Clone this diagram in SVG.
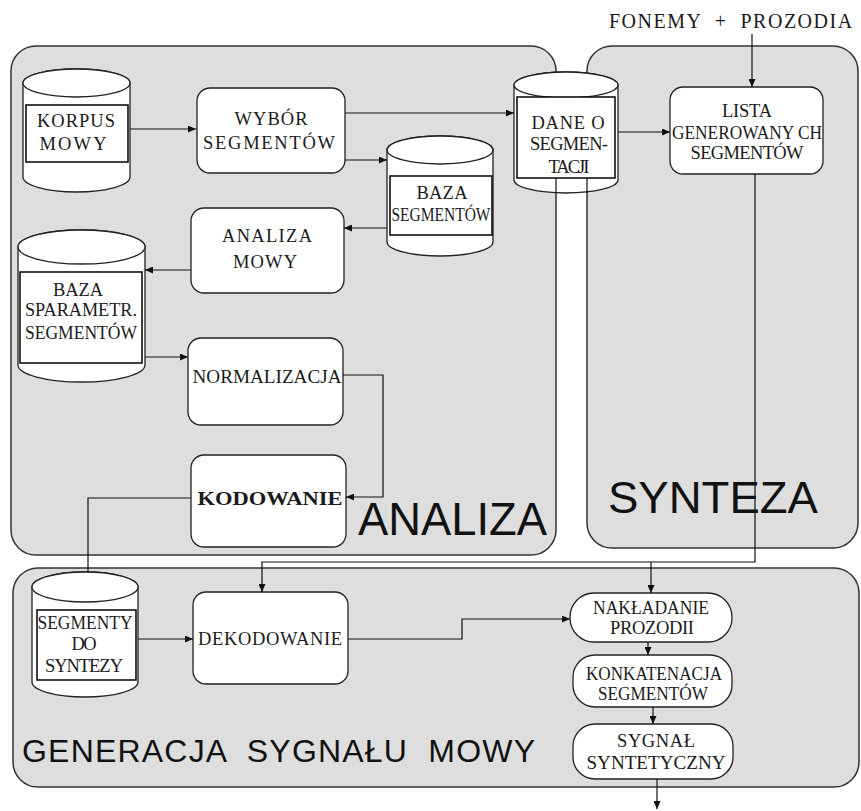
<svg xmlns="http://www.w3.org/2000/svg" width="861" height="811" viewBox="0 0 861 811">
<defs>
<style>
.pn{fill:#dedede;stroke:#333;stroke-width:1.5}
.pl{font-family:"Liberation Sans",Arial,sans-serif;fill:#111}
.n{fill:#fff;stroke:#222;stroke-width:1.3}
.ir{fill:#fff;stroke:#111;stroke-width:1.6}
.t{font-family:"Liberation Serif","Times New Roman",serif;font-size:18.5px;fill:#1a1a1a;text-anchor:middle}
.c{fill:none;stroke:#111;stroke-width:1.2}
.a{marker-end:url(#ah)}
</style>
<marker id="ah" markerUnits="userSpaceOnUse" markerWidth="8" markerHeight="7" refX="8" refY="3.5" orient="auto">
<path d="M0,0 L8,3.5 L0,7 z" fill="#111"/>
</marker>
</defs>
<rect width="861" height="811" fill="#fff"/>
<g id="panels">
<rect id="panel-analiza" class="pn" x="11" y="46" width="545" height="509" rx="25"/>
<rect id="panel-synteza" class="pn" x="587" y="46" width="271" height="502" rx="25"/>
<rect id="panel-generacja" class="pn" x="13" y="568" width="846" height="219" rx="25"/>
<text class="pl" x="358" y="535" font-size="46" textLength="189" lengthAdjust="spacingAndGlyphs">ANALIZA</text>
<text class="pl" x="608" y="513" font-size="45" textLength="210" lengthAdjust="spacingAndGlyphs">SYNTEZA</text>
<text class="pl" x="22" y="762" font-size="32" textLength="513" lengthAdjust="spacing" xml:space="preserve">GENERACJA  SYGNAŁU  MOWY</text>
</g>
<text id="input-label" x="609" y="28" font-family="'Liberation Serif','Times New Roman',serif" font-size="20" letter-spacing="1.5" fill="#1a1a1a" xml:space="preserve">FONEMY  +  PROZODIA</text>
<g id="korpus">
<path class="n" d="M23,83 A53.5,14 0 0 1 130,83 V177 A53.5,15 0 0 1 23,177 Z"/>
<ellipse class="n" cx="76.5" cy="83" rx="53.5" ry="14"/>
<rect class="ir" x="26" y="105" width="102" height="57"/>
<text class="t" x="76" y="127" textLength="78" lengthAdjust="spacing">KORPUS</text>
<text class="t" x="73" y="150" textLength="67" lengthAdjust="spacing">MOWY</text>
</g>
<g id="wybor">
<rect class="n" x="197" y="88" width="148" height="85" rx="13"/>
<text class="t" x="271" y="125" textLength="73" lengthAdjust="spacing">WYBÓR</text>
<text class="t" x="269" y="149" textLength="132" lengthAdjust="spacing">SEGMENTÓW</text>
</g>
<g id="dane">
<path class="n" d="M514,85 A52,13 0 0 1 618,85 V180 A52,13 0 0 1 514,180 Z"/>
<ellipse class="n" cx="566" cy="85" rx="52" ry="13"/>
<rect class="ir" x="517" y="97" width="98" height="81"/>
<text class="t" x="568" y="129" textLength="73" lengthAdjust="spacing">DANE O</text>
<text class="t" x="569" y="150" textLength="78" lengthAdjust="spacing">SEGMEN-</text>
<text class="t" x="569" y="173" textLength="41" lengthAdjust="spacing">TACJI</text>
</g>
<g id="panel-edges">
<path class="c" d="M556,178 V193 M587,178 V193" stroke="#333"/>
</g>
<g id="baza-segmentow">
<path class="n" d="M387,150 A53,14 0 0 1 493,150 V242 A53,14 0 0 1 387,242 Z"/>
<ellipse class="n" cx="440" cy="150" rx="53" ry="14"/>
<rect class="ir" x="390" y="176" width="102" height="59"/>
<text class="t" x="442" y="199" textLength="51" lengthAdjust="spacing">BAZA</text>
<text class="t" x="441" y="221" textLength="99" lengthAdjust="spacingAndGlyphs">SEGMENTÓW</text>
</g>
<g id="analiza-mowy">
<rect class="n" x="191" y="208" width="153" height="85" rx="13"/>
<text class="t" x="267" y="242" textLength="90" lengthAdjust="spacing">ANALIZA</text>
<text class="t" x="265" y="268" textLength="64" lengthAdjust="spacing">MOWY</text>
</g>
<g id="baza-sparametr">
<path class="n" d="M18,247 A63.5,17 0 0 1 145,247 V365 A63.5,17 0 0 1 18,365 Z"/>
<ellipse class="n" cx="81.5" cy="247" rx="63.5" ry="17"/>
<rect class="ir" x="20" y="272" width="122" height="91"/>
<text class="t" x="78" y="296" textLength="50" lengthAdjust="spacing">BAZA</text>
<text class="t" x="81" y="316" textLength="112" lengthAdjust="spacingAndGlyphs">SPARAMETR.</text>
<text class="t" x="81" y="339" textLength="112" lengthAdjust="spacingAndGlyphs">SEGMENTÓW</text>
</g>
<g id="normalizacja">
<rect class="n" x="188" y="338" width="155" height="87" rx="13"/>
<text class="t" x="267" y="383" textLength="149" lengthAdjust="spacingAndGlyphs">NORMALIZACJA</text>
</g>
<g id="kodowanie">
<rect class="n" x="191" y="455" width="155" height="92" rx="13"/>
<text class="t" x="270" y="505" font-size="20" font-weight="bold" textLength="145" lengthAdjust="spacingAndGlyphs">KODOWANIE</text>
</g>
<g id="lista">
<rect class="n" x="670" y="87" width="153" height="87" rx="13"/>
<text class="t" x="747" y="117" textLength="50" lengthAdjust="spacing">LISTA</text>
<text class="t" x="747" y="139" textLength="150" lengthAdjust="spacingAndGlyphs">GENEROWANY CH</text>
<text class="t" x="747" y="159" textLength="113" lengthAdjust="spacing">SEGMENTÓW</text>
</g>
<g id="segmenty-do-syntezy">
<path class="n" d="M32,587 A53,15 0 0 1 138,587 V682 A53,15 0 0 1 32,682 Z"/>
<ellipse class="n" cx="85" cy="587" rx="53" ry="15"/>
<rect class="ir" x="37" y="610" width="99" height="70"/>
<text class="t" x="85" y="629" textLength="95" lengthAdjust="spacingAndGlyphs">SEGMENTY</text>
<text class="t" x="84" y="650" textLength="25" lengthAdjust="spacing">DO</text>
<text class="t" x="84" y="672" textLength="78" lengthAdjust="spacing">SYNTEZY</text>
</g>
<g id="dekodowanie">
<rect class="n" x="193" y="592" width="155" height="92" rx="13"/>
<text class="t" x="270" y="645" textLength="144" lengthAdjust="spacing">DEKODOWANIE</text>
</g>
<g id="nakladanie">
<rect class="n" x="570" y="593" width="162" height="49" rx="24"/>
<text class="t" x="651" y="614" textLength="116" lengthAdjust="spacingAndGlyphs">NAKŁADANIE</text>
<text class="t" x="652" y="634" textLength="84" lengthAdjust="spacing">PROZODII</text>
</g>
<g id="konkatenacja">
<rect class="n" x="573" y="655" width="159" height="52" rx="22"/>
<text class="t" x="654" y="680" textLength="136" lengthAdjust="spacingAndGlyphs">KONKATENACJA</text>
<text class="t" x="653" y="700" textLength="110" lengthAdjust="spacingAndGlyphs">SEGMENTÓW</text>
</g>
<g id="sygnal">
<rect class="n" x="573" y="724" width="160" height="55" rx="22"/>
<text class="t" x="656" y="747" textLength="78" lengthAdjust="spacing">SYGNAŁ</text>
<text class="t" x="656" y="769" textLength="139" lengthAdjust="spacingAndGlyphs">SYNTETYCZNY</text>
</g>
<g id="connectors">
<path class="c a" d="M130,129 H196"/>
<path class="c a" d="M345,113 H514"/>
<path class="c a" d="M345,160 H387"/>
<path class="c a" d="M387,228 H344"/>
<path class="c a" d="M191,270 H145"/>
<path class="c a" d="M145,357 H188"/>
<path class="c a" d="M343,375 H383 V497 H346"/>
<path class="c" d="M191,498 H88 V572"/>
<path class="c a" d="M138,639 H193"/>
<path class="c a" d="M348,639 H462 V619 H570"/>
<path class="c a" d="M755,174 V562 H262 V592"/>
<path class="c a" d="M651,562 V593"/>
<path class="c a" d="M648,642 V655"/>
<path class="c a" d="M653,707 V724"/>
<path class="c a" d="M657,779 V809"/>
<path class="c a" d="M752,34 V87"/>
<path class="c a" d="M618,132 H670"/>
</g>
</svg>
